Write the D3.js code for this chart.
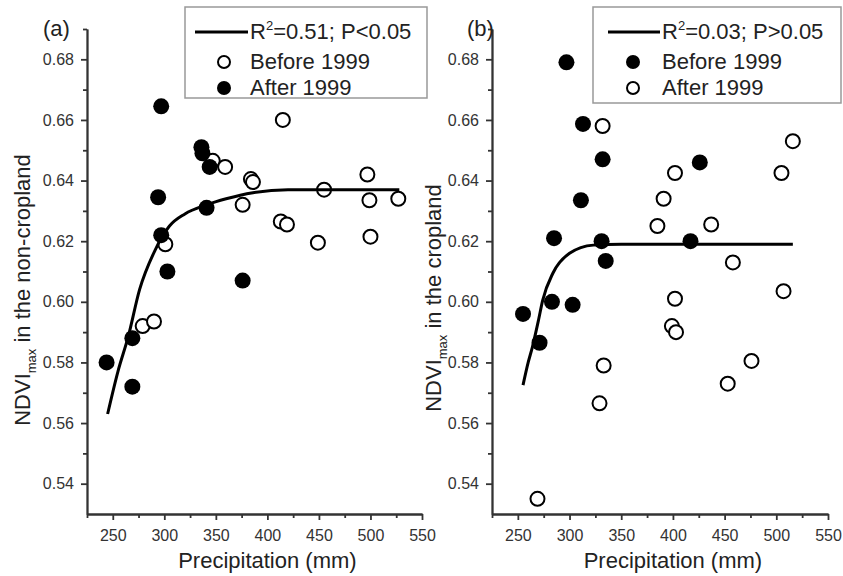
<!DOCTYPE html>
<html>
<head>
<meta charset="utf-8">
<script src="https://cdn.jsdelivr.net/npm/d3@7"></script>
<style>
  body { margin: 0; background: #fff; }
  svg { display: block; font-family: "Liberation Sans", Arial, sans-serif; }
</style>
</head>
<body>
<div id="chart"></div>
<script>
// ticks
const xTicks = [250, 300, 350, 400, 450, 500, 550];
const xMinor = [225, 275, 325, 375, 425, 475, 525];
const yTicks = [0.54, 0.56, 0.58, 0.60, 0.62, 0.64, 0.66, 0.68];
const yMinor = [0.55, 0.57, 0.59, 0.61, 0.63, 0.65, 0.67, 0.69];

// (a) non-cropland: open = Before 1999, filled = After 1999
const aOpen = [
  [279, 0.592], [290, 0.5935], [301, 0.619], [347, 0.6465], [359, 0.6445],
  [384, 0.6405], [386, 0.6395], [376, 0.632], [413, 0.6265], [419, 0.6255],
  [415, 0.660], [455, 0.637], [449, 0.6195], [497, 0.642], [499, 0.6335],
  [500, 0.6215], [527, 0.634]
];
const aFilled = [
  [244, 0.580], [269, 0.588], [269, 0.572], [303, 0.610], [376, 0.607],
  [297, 0.6645], [294, 0.6345], [297, 0.622], [341, 0.631], [336, 0.651],
  [337, 0.649], [344, 0.6445]
];
const aFit = [
  [245, 0.563], [255, 0.577], [265, 0.5885], [276, 0.604], [291, 0.617],
  [305, 0.625], [320, 0.629], [341, 0.632], [360, 0.634], [386, 0.636],
  [420, 0.637], [460, 0.637], [528, 0.637]
];

// (b) cropland: filled = Before 1999, open = After 1999
const bFilled = [
  [297, 0.679], [313, 0.6587], [332, 0.647], [311, 0.6335], [285, 0.621],
  [331, 0.620], [335, 0.6135], [426, 0.646], [417, 0.620], [255, 0.596],
  [271, 0.5865], [283, 0.600], [303, 0.599]
];
const bOpen = [
  [332, 0.658], [402, 0.6425], [391, 0.634], [385, 0.625], [437, 0.6255],
  [458, 0.613], [505, 0.6425], [516, 0.653], [507, 0.6035], [402, 0.601],
  [399, 0.592], [403, 0.590], [476, 0.5805], [453, 0.573], [333, 0.579],
  [329, 0.5665], [269, 0.535]
];
const bFit = [
  [255, 0.5725], [260, 0.580], [264, 0.585], [270, 0.594], [274, 0.6005],
  [284, 0.6095], [300, 0.616], [323, 0.6187], [350, 0.619], [400, 0.619],
  [516, 0.619]
];

const W = 843, H = 576;
const plotTop = 29, plotBottom = 514;
const ink = "#222";

const svg = d3.select("#chart").append("svg")
  .attr("width", W).attr("height", H);

const panels = [
  {
    tag: "(a)", tagX: 43, left: 87, right: 422,
    ylab: " in the non-cropland", ylabX: 30, ylabY: 290,
    open: aOpen, filled: aFilled, fit: aFit,
    fitText: "=0.51; P<0.05",
    box: { x0: 185, x1: 427, y0: 7, y1: 98 }, lineX: [195, 248], mx: 224, tx: 250,
    rows: [{ kind: "open", label: "Before 1999" }, { kind: "filled", label: "After 1999" }]
  },
  {
    tag: "(b)", tagX: 467, left: 492, right: 828,
    ylab: " in the cropland", ylabX: 441, ylabY: 298,
    open: bOpen, filled: bFilled, fit: bFit,
    fitText: "=0.03; P>0.05",
    box: { x0: 593, x1: 841, y0: 7, y1: 103 }, lineX: [608, 660], mx: 633, tx: 662,
    rows: [{ kind: "filled", label: "Before 1999" }, { kind: "open", label: "After 1999" }]
  }
];

panels.forEach(p => {
  const x = d3.scaleLinear().domain([225, 550]).range([p.left, p.right]);
  const y = d3.scaleLinear().domain([0.53, 0.69]).range([plotBottom, plotTop]);
  const g = svg.append("g");

  // axes: minor first, then major
  const xm = g.append("g").attr("transform", `translate(0,${plotBottom})`)
    .call(d3.axisBottom(x).tickValues(xMinor).tickSize(4).tickSizeOuter(0).tickFormat(""));
  const xa = g.append("g").attr("transform", `translate(0,${plotBottom})`)
    .call(d3.axisBottom(x).tickValues(xTicks).tickSize(6).tickPadding(10).tickSizeOuter(0));
  const ym = g.append("g").attr("transform", `translate(${p.left},0)`)
    .call(d3.axisLeft(y).tickValues(yMinor).tickSize(4).tickSizeOuter(0).tickFormat(""));
  const ya = g.append("g").attr("transform", `translate(${p.left},0)`)
    .call(d3.axisLeft(y).tickValues(yTicks).tickSize(6).tickPadding(7).tickSizeOuter(0)
      .tickFormat(d3.format(".2f")));

  [xm, xa, ym, ya].forEach(a => {
    a.selectAll("path, line").attr("stroke", "#333").attr("stroke-width", 1.8);
    a.selectAll("text").attr("fill", "#333").style("font-size", "16px")
      .style("font-family", "'Liberation Sans', Arial, sans-serif");
  });

  // axis titles
  g.append("text")
    .attr("x", x(400)).attr("y", 568)
    .attr("text-anchor", "middle")
    .attr("fill", ink).style("font-size", "22px")
    .text("Precipitation (mm)");

  const yl = g.append("text")
    .attr("transform", `translate(${p.ylabX},${p.ylabY}) rotate(-90)`)
    .attr("text-anchor", "middle")
    .attr("fill", ink).style("font-size", "22px");
  yl.append("tspan").text("NDVI");
  yl.append("tspan").attr("dy", 6).style("font-size", "13px").text("max");
  yl.append("tspan").attr("dy", -6).text(p.ylab);

  g.append("text")
    .attr("x", p.tagX).attr("y", 36)
    .attr("fill", ink).style("font-size", "22px")
    .text(p.tag);

  // points: open (white-filled) first, filled on top
  [["open", p.open], ["filled", p.filled]].forEach(([kind, data]) => {
    g.append("g").selectAll("circle")
      .data(data)
      .join("circle")
      .attr("cx", d => x(d[0]))
      .attr("cy", d => y(d[1]))
      .attr("r", kind === "open" ? 7 : 8)
      .attr("fill", kind === "open" ? "#fff" : "#000")
      .attr("stroke", "#000")
      .attr("stroke-width", kind === "open" ? 2 : 0);
  });

  // fitted curve
  const line = d3.line()
    .x(d => x(d[0]))
    .y(d => y(d[1]))
    .curve(d3.curveMonotoneX);
  g.append("path")
    .datum(p.fit)
    .attr("fill", "none")
    .attr("stroke", "#000")
    .attr("stroke-width", 3)
    .attr("d", line);

  // legend
  const b = p.box;
  const lg = g.append("g");
  lg.append("rect")
    .attr("x", b.x0).attr("y", b.y0)
    .attr("width", b.x1 - b.x0).attr("height", b.y1 - b.y0)
    .attr("fill", "#fff").attr("stroke", "#999").attr("stroke-width", 1.5);

  lg.append("line")
    .attr("x1", p.lineX[0]).attr("x2", p.lineX[1])
    .attr("y1", 32).attr("y2", 32)
    .attr("stroke", "#000").attr("stroke-width", 3);
  const ft = lg.append("text")
    .attr("x", p.tx).attr("y", 39)
    .attr("fill", ink).style("font-size", "22px");
  ft.append("tspan").text("R");
  ft.append("tspan").attr("dy", -9).style("font-size", "13px").text("2");
  ft.append("tspan").attr("dy", 9).text(p.fitText);

  p.rows.forEach((r, i) => {
    const cy = 62 + i * 26;
    lg.append("circle")
      .attr("cx", p.mx).attr("cy", cy)
      .attr("r", r.kind === "open" ? 6 : 7)
      .attr("fill", r.kind === "open" ? "#fff" : "#000")
      .attr("stroke", "#000")
      .attr("stroke-width", r.kind === "open" ? 2 : 0);
    lg.append("text")
      .attr("x", p.tx).attr("y", cy + 7)
      .attr("fill", ink).style("font-size", "22px")
      .text(r.label);
  });
});
</script>
</body>
</html>
